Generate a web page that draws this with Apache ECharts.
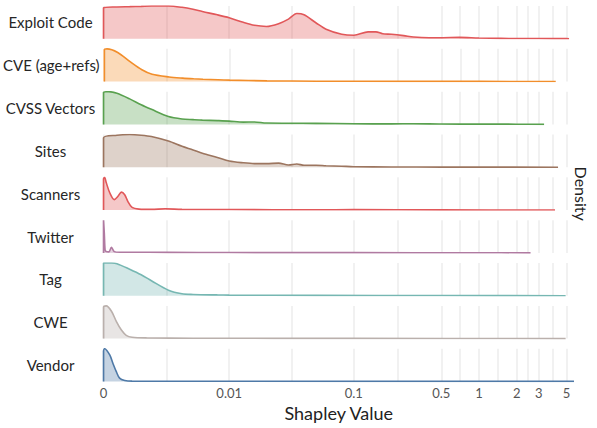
<!DOCTYPE html>
<html><head><meta charset="utf-8">
<script src="https://cdn.jsdelivr.net/npm/echarts@6/dist/echarts.min.js"></script>
<style>html,body{margin:0;padding:0;background:#fff}#c{width:597px;height:428px}</style>
</head><body><div id="c"></div>
<script>
// ---- data (Shapley values on x, density scaled to each row's peak on y) ----
const categories = ['Exploit Code','CVE (age+refs)','CVSS Vectors','Sites','Scanners','Twitter','Tag','CWE','Vendor'];
const colors = ['#e15759','#f28e2b','#59a14f','#9c755f','#e15759','#b07aa1','#76b7b2','#bab0ac','#4e79a7'];

const exploitX = [0,0,0.0005,0.001,0.0015,0.002,0.003,0.004,0.005,0.006,0.008,0.01,0.013,0.016,0.02,0.025,0.03,0.035,0.04,0.05,0.06,0.08,0.1,0.13,0.15,0.17,0.2,0.25,0.3,0.4,0.5,0.7,1,1.5,2,3,5,5.24];
const exploitY = [0,0.95,0.97,0.98,0.99,1.0,1.0,0.96,0.90,0.83,0.73,0.64,0.50,0.41,0.375,0.46,0.60,0.77,0.73,0.48,0.29,0.135,0.104,0.21,0.21,0.15,0.135,0.094,0.05,0.03,0.03,0.04,0.02,0.01,0.005,0.004,0.003,0];

const cveX = [0,0,0.0001,0.0005,0.001,0.0015,0.002,0.003,0.004,0.005,0.006,0.008,0.01,0.02,0.05,0.1,0.5,1,4.1];
const cveY = [0,0.97,1.0,0.89,0.60,0.36,0.22,0.14,0.105,0.084,0.07,0.053,0.042,0.021,0.01,0.007,0.005,0.004,0];

const cvssX = [0,0,0.0002,0.0005,0.001,0.0015,0.002,0.003,0.004,0.005,0.006,0.008,0.01,0.013,0.016,0.02,0.03,0.05,0.1,0.2,0.3,0.5,1,2,3.31];
const cvssY = [0,0.98,1.0,0.95,0.78,0.60,0.46,0.24,0.165,0.145,0.13,0.115,0.10,0.07,0.075,0.04,0.035,0.03,0.02,0.015,0.02,0.01,0.008,0.006,0];

const sitesX = [0,0,0.0005,0.001,0.0015,0.002,0.003,0.004,0.005,0.006,0.008,0.01,0.013,0.016,0.02,0.025,0.03,0.035,0.04,0.05,0.06,0.08,0.1,0.2,0.5,1,4.28];
const sitesY = [0,0.90,0.98,1.0,0.98,0.94,0.80,0.64,0.53,0.43,0.30,0.19,0.135,0.11,0.11,0.125,0.07,0.10,0.06,0.06,0.045,0.03,0.016,0.006,0.004,0.003,0];

const scannersX = [0,0,0.00004,0.0001,0.00023,0.0004,0.00054,0.00067,0.0008,0.00093,0.0011,0.0014,0.002,0.0028,0.004,0.01,0.05,0.1,0.5,4.05];
const scannersY = [0,0.95,1.0,0.84,0.53,0.32,0.42,0.55,0.47,0.26,0.08,0.03,0.02,0.04,0.02,0.015,0.01,0.012,0.005,0];

const twitterX = [0,0,0.00003,0.00006,0.0001,0.0002,0.00029,0.0004,0.0006,0.001,0.003,0.01,0.1,1,2.58];
const twitterY = [0,1.0,0.6,0.08,0.04,0.03,0.17,0.04,0.02,0.02,0.015,0.01,0.008,0.005,0];

const tagX = [0,0,0.0003,0.0005,0.001,0.0015,0.002,0.003,0.004,0.005,0.008,0.01,0.05,0.5,4.92];
const tagY = [0,1.0,1.0,0.98,0.81,0.64,0.46,0.17,0.06,0.04,0.025,0.02,0.01,0.006,0];

const cweX = [0,0,0.0001,0.0003,0.00048,0.00067,0.00086,0.0011,0.0018,0.005,0.1,4.92];
const cweY = [0,0.96,1.0,0.83,0.52,0.26,0.10,0.04,0.02,0.01,0.006,0];

const vendorX = [0,0,0.00004,0.00023,0.00035,0.00048,0.0006,0.0008,0.0011,0.005,5.74];
const vendorY = [0,0.92,1.0,0.81,0.55,0.29,0.10,0.03,0.01,0.005,0];

const tickLabels = [0,0.01,0.1,0.5,1,2,3,5];
const xMaxValue = 5.74;
const xTitle = 'Shapley Value';
const yTitle = 'Density';

const seriesX = [exploitX,cveX,cvssX,sitesX,scannersX,twitterX,tagX,cweX,vendorX];
const seriesY = [exploitY,cveY,cvssY,sitesY,scannersY,twitterY,tagY,cweY,vendorY];

// ---- pseudo-log (symlog) transform, sigma = 0.001 ----
const TR = v => Math.asinh(v / 0.002) / Math.LN10;
const majorT = tickLabels.map(TR);
const minorT = [];
for (let k = 0; k < majorT.length - 1; k++) minorT.push((majorT[k] + majorT[k+1]) / 2);
const allT = majorT.concat(minorT).sort((a,b)=>a-b);

// ---- layout ----
const FONT = 'Lato';
const gridLeft = 103.5, gridRight = 23, panelTop = 6, panelStep = 42.84, panelH = 32.7;
const n = categories.length;

const grids = [], xAxes = [], yAxes = [], series = [];
for (let i = 0; i < n; i++) {
  grids.push({left: gridLeft, right: gridRight, top: panelTop + panelStep * i, height: panelH});
  const last = i === n - 1;
  xAxes.push({
    gridIndex: i, type: 'value', min: 0, max: TR(xMaxValue),
    axisLine: {show: false},
    axisTick: {show: false, customValues: allT},
    axisLabel: {
      show: last, customValues: majorT, color: '#555', fontSize: 13, margin: 5, fontFamily: FONT,
      formatter: v => { let b = 0; for (let k = 0; k < majorT.length; k++) if (Math.abs(majorT[k]-v) < Math.abs(majorT[b]-v)) b = k; return String(tickLabels[b]); }
    },
    splitLine: {show: true, lineStyle: {color: '#eeeeee', width: 1.6}},
    name: last ? xTitle : '', nameLocation: 'middle', nameGap: 23, nameMoveOverlap: false,
    nameTextStyle: {fontSize: 18, color: '#222', fontFamily: FONT}
  });
  yAxes.push({gridIndex: i, type: 'value', min: 0, max: 1, position: 'right', show: false});
  series.push({
    type: 'line', xAxisIndex: i, yAxisIndex: i,
    data: seriesX[i].map((x, k) => [TR(x), seriesY[i][k]]),
    showSymbol: false, symbol: 'none', smooth: 0.3,
    lineStyle: {color: colors[i], width: 1.6},
    itemStyle: {color: colors[i]},
    areaStyle: {color: colors[i], opacity: 0.33},
    silent: true
  });
}
for (let i = 0; i < n; i++) {
  yAxes.push({
    gridIndex: i, type: 'category', position: 'left', data: [categories[i]],
    axisLine: {show: false}, axisTick: {show: false}, splitLine: {show: false},
    axisLabel: {align: 'center', margin: 53, fontSize: 15, color: '#262626', fontFamily: FONT}
  });
}
// overall grid used only for the right-hand axis title
grids.push({left: gridLeft, right: gridRight, top: panelTop, height: panelStep * (n - 1) + panelH});
xAxes.push({gridIndex: n, type: 'value', show: false});
yAxes.push({
  gridIndex: n, type: 'value', position: 'right', offset: 8,
  axisLine: {show: false}, axisTick: {show: false}, axisLabel: {show: false}, splitLine: {show: false},
  name: yTitle, nameLocation: 'middle', nameRotate: -90, nameGap: 4, nameMoveOverlap: false,
  nameTextStyle: {fontSize: 16, color: '#222', fontFamily: FONT}
});

const chart = echarts.init(document.getElementById('c'), null, {renderer: 'svg'});
chart.setOption({
  animation: false,
  backgroundColor: '#fff',
  grid: grids, xAxis: xAxes, yAxis: yAxes, series: series
});
</script>
</body></html>
